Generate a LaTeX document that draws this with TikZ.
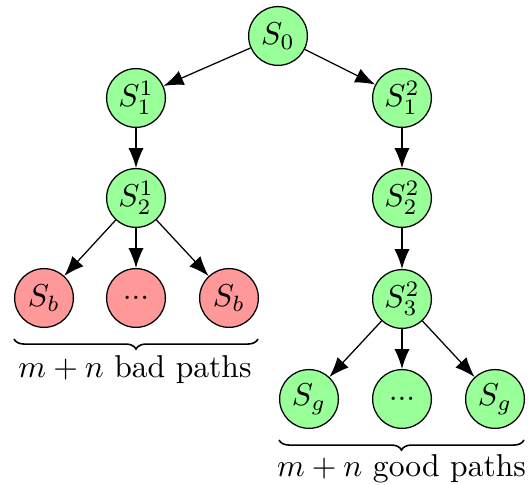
\documentclass[tikz,border=0pt]{standalone}
\usetikzlibrary{arrows.meta,decorations.pathreplacing}
\definecolor{gfill}{RGB}{153,255,153}
\definecolor{rfill}{RGB}{255,153,153}
\begin{document}
\begin{tikzpicture}[x=0.3164pt,y=-0.3164pt,
  state/.style={circle,draw,line width=0.4pt,minimum size=18.6pt,inner sep=0pt},
  good/.style={state,fill=gfill},
  bad/.style={state,fill=rfill},
  arr/.style={-{Latex[length=6.3pt,width=4.8pt]},line width=0.4pt},
  brc/.style={decorate,decoration={brace,mirror,amplitude=3.2pt},line width=0.5pt}]
\useasboundingbox (0,0) rectangle (530,485);
\node[good] (s0) at (278,36) {$S_0$};
\node[good] (s11) at (136,98) {$S_1^1$};
\node[good] (s12) at (402,98) {$S_1^2$};
\node[good] (s21) at (136,198) {$S_2^1$};
\node[good] (s22) at (402,198) {$S_2^2$};
\node[bad] (b1) at (44,298) {$S_b$};
\node[bad] (b2) at (136,298) {...};
\node[bad] (b3) at (229,298) {$S_b$};
\node[good] (s32) at (402,299) {$S_3^2$};
\node[good] (g1) at (309,399) {$S_g$};
\node[good] (g2) at (402,399) {...};
\node[good] (g3) at (495,399) {$S_g$};
\draw[arr] (s0) -- (s11);
\draw[arr] (s0) -- (s12);
\draw[arr] (s11) -- (s21);
\draw[arr] (s12) -- (s22);
\draw[arr] (s21) -- (b1);
\draw[arr] (s21) -- (b2);
\draw[arr] (s21) -- (b3);
\draw[arr] (s22) -- (s32);
\draw[arr] (s32) -- (g1);
\draw[arr] (s32) -- (g2);
\draw[arr] (s32) -- (g3);
\coordinate (bl1) at (14,339);
\coordinate (bl2) at (258,339);
\coordinate (gl1) at (279,440);
\coordinate (gl2) at (524,440);
\draw[brc] (bl1) -- (bl2);
\draw[brc] (gl1) -- (gl2);
\node[anchor=base,inner sep=0pt] (lb) at (135,378) {$m+n$ bad paths};
\node[anchor=base,inner sep=0pt] (lg) at (401.5,477) {$m+n$ good paths};
\end{tikzpicture}
\end{document}
